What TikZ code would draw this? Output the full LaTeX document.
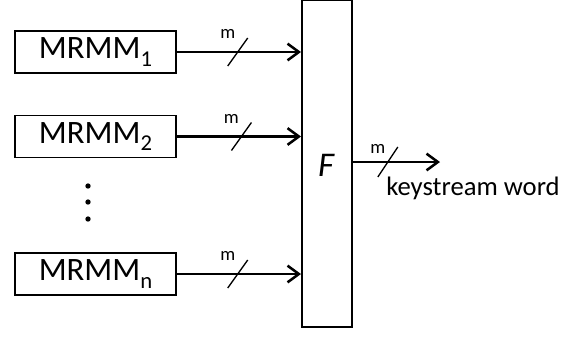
\documentclass[tikz,border=0pt]{standalone}
\usepackage{fontspec}
\setmainfont{Carlito}
\usetikzlibrary{arrows.meta}
\newcommand\mysubs[1]{\raisebox{-5.5pt}{\fontsize{17}{20}\selectfont #1}}
\begin{document}
\begin{tikzpicture}[x=0.75pt,y=-0.75pt,
  mbox/.style={draw,line width=1.4pt,minimum width=120.75pt,minimum height=31.5pt,inner sep=0pt,font=\fontsize{24.5}{28}\selectfont},
  fbox/.style={draw,line width=1.5pt,minimum width=37.5pt,minimum height=245pt,inner sep=0pt},
  arr/.style={line width=2pt,-{Straight Barb[length=8.5pt,width=12.5pt,line width=1.9pt]}},
  slashline/.style={line width=1pt},
  mlabel/.style={inner sep=0pt,font=\fontsize{14}{16}\selectfont},
  dotc/.style={fill,circle,inner sep=0pt,minimum size=4pt}
]
\useasboundingbox (0,0) rectangle (570,337);
\node[mbox] (m1) at (95.5,52) {MRMM\mysubs{1}};
\node[mbox] (m2) at (95.5,136.5) {MRMM\mysubs{2}};
\node[mbox] (mn) at (95.5,274) {MRMM\mysubs{n}};
\node[fbox] (F) at (327,163.8) {};
\node[font=\fontsize{26}{30}\selectfont\itshape,inner sep=0pt] (Fl) at (326,165) {F};
\node[dotc] (d1) at (88,186) {};
\node[dotc] (d2) at (88,202) {};
\node[dotc] (d3) at (88,219) {};
\coordinate (out) at (440,162);
\node[anchor=base west,inner sep=0pt,font=\fontsize{20}{24}\selectfont] (kw) at (386,195) {keystream word};
\foreach \s/\p in {m1/0.49,m2/0.52,mn/0.49}{
  \draw[arr] (\s.east) -- coordinate[pos=\p] (c\s) (\s.east -| F.west);
  \draw[slashline] ([shift={(-10,14)}]c\s) -- ([shift={(10,-14)}]c\s);
  \node[mlabel] (l\s) at ([shift={(-10,-18)}]c\s) {m};
}
\draw[arr] (F.east |- out) -- coordinate[pos=0.4] (cout) (out);
\draw[slashline] ([shift={(-10,15)}]cout) -- ([shift={(10,-15)}]cout);
\node[mlabel] (lout) at ([shift={(-10,-13)}]cout) {m};
\end{tikzpicture}
\end{document}
